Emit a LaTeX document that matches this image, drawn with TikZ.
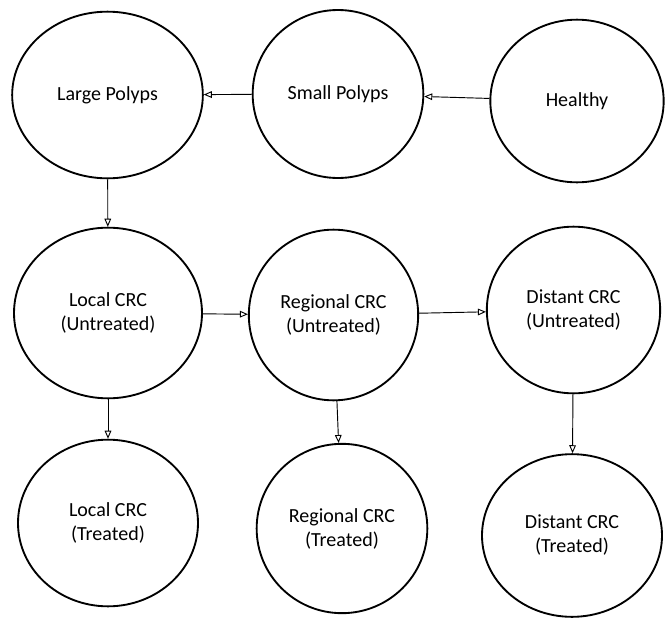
\documentclass[tikz,border=0pt]{standalone}
\usepackage{fontspec}
\setmainfont{Carlito}
\usetikzlibrary{arrows.meta,shapes.geometric}
\tikzset{
  st/.style={ellipse, draw, line width=1.4pt, inner sep=0pt, align=center,
    font=\fontsize{15}{18}\selectfont},
  tr/.style={draw, line width=0.7pt, -{Triangle[open, length=6pt, width=5pt]}}
}
\begin{document}
\begin{tikzpicture}[x=0.75pt,y=-0.75pt]
\useasboundingbox (0,0) rectangle (665,618);
\node[st, minimum width=143pt, minimum height=125pt] (lp) at (107.5,95) {Large Polyps};
\node[st, minimum width=128pt, minimum height=126pt] (sp) at (338,94) {Small Polyps};
\node[st, minimum width=130pt, minimum height=122pt] (h) at (577,101) {Healthy};
\node[st, minimum width=141pt, minimum height=128pt] (lu) at (108,313) {Local CRC\\(Untreated)};
\node[st, minimum width=127pt, minimum height=128pt] (ru) at (333.5,315) {Regional CRC\\(Untreated)};
\node[st, minimum width=130pt, minimum height=125pt] (du) at (573.5,310) {Distant CRC\\(Untreated)};
\node[st, minimum width=135pt, minimum height=125pt] (lt) at (108,523) {Local CRC\\(Treated)};
\node[st, minimum width=128pt, minimum height=127pt] (rt) at (342,528.5) {Regional CRC\\(Treated)};
\node[st, minimum width=135pt, minimum height=122pt] (dt) at (572,535.5) {Distant CRC\\(Treated)};
\draw[tr] (h) -- (sp);
\draw[tr] (sp) -- (lp);
\draw[tr] (lp) -- (lu);
\draw[tr] (lu) -- (ru);
\draw[tr] (ru) -- (du);
\draw[tr] (lu) -- (lt);
\draw[tr] (ru) -- (rt);
\draw[tr] (du) -- (dt);
\end{tikzpicture}
\end{document}
